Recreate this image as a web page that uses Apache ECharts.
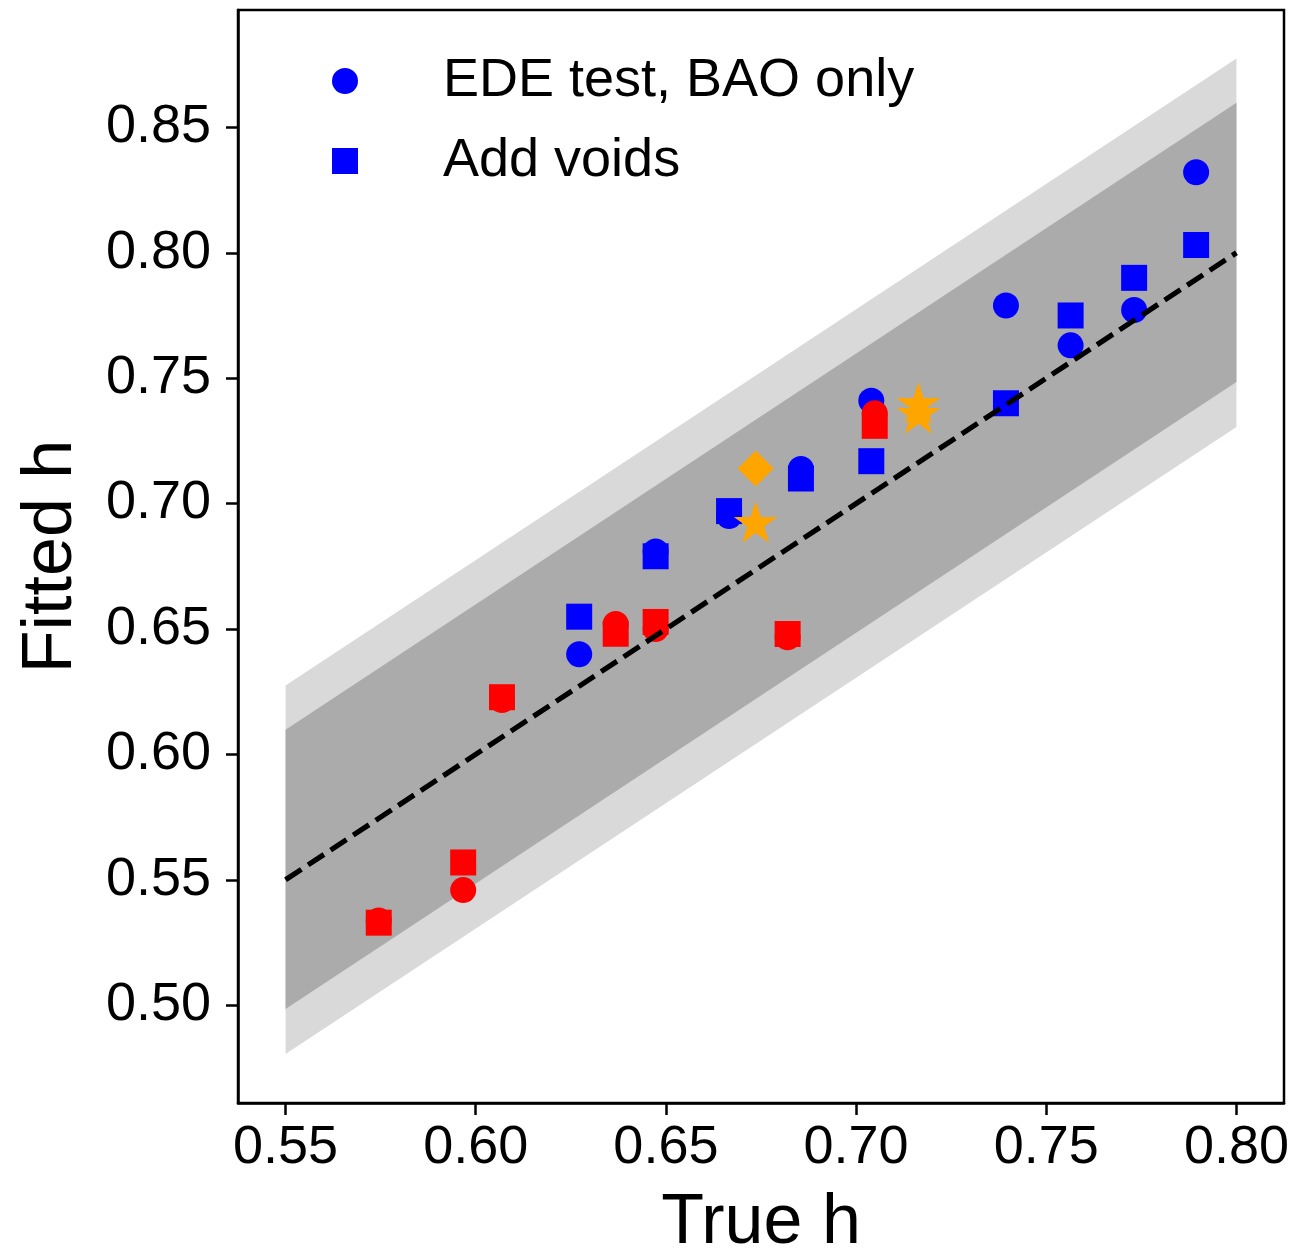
<!DOCTYPE html>
<html>
<head>
<meta charset="utf-8">
<script src="https://cdn.jsdelivr.net/npm/echarts@6/dist/echarts.min.js"></script>
<style>
  html, body { margin: 0; padding: 0; background: #fff; }
  #chart { width: 1294px; height: 1252px; }
</style>
</head>
<body>
<div id="chart"></div>
<script>
// Axis ranges and tick positions
const xRange = [0.5375, 0.8125];
const yRange = [0.4610, 0.8968];
const xTicks = [0.55, 0.60, 0.65, 0.70, 0.75, 0.80];
const yTicks = [0.50, 0.55, 0.60, 0.65, 0.70, 0.75, 0.80, 0.85];

// Scatter bands around the one-to-one relation
const bandX = [0.55, 0.80];
const outerLow = [0.4805, 0.7305];
const outerHigh = [0.6275, 0.8775];
const innerLow = [0.4985, 0.7485];
const innerHigh = [0.6098, 0.8598];

// One-to-one reference line
const diagX = [0.55, 0.80];

// Blue runs
const blueTrue = [0.6272, 0.6473, 0.6666, 0.6855, 0.7040, 0.7394, 0.7564, 0.7731, 0.7894];
const blueBaoOnly = [0.6399, 0.6809, 0.6950, 0.7138, 0.7410, 0.7790, 0.7631, 0.7772, 0.8321];
const blueVoids = [0.6549, 0.6790, 0.6970, 0.7100, 0.7169, 0.7400, 0.7750, 0.7900, 0.8031];

// Red runs
const redTrue = [0.5745, 0.5967, 0.6069, 0.6368, 0.6473, 0.6820, 0.7049];
const redBaoOnly = [0.5338, 0.5459, 0.6217, 0.6520, 0.6500, 0.6467, 0.7360];
const redVoids = [0.5329, 0.5569, 0.6228, 0.6481, 0.6528, 0.6480, 0.7310];

// Orange runs
const diamondTrue = [0.6736];
const diamondFit = [0.7140];
const starTrue = [0.6736, 0.7164, 0.7164];
const starFit = [0.6918, 0.7393, 0.7353];

const FONT = "'Liberation Sans', Arial, Helvetica, sans-serif";
const STAR = 'path://M100,0 L122.45,69.10 L195.11,69.10 L136.33,111.80 L158.78,180.90 L100,138.2 L41.22,180.90 L63.67,111.80 L4.89,69.10 L77.55,69.10 Z';

function pairs(xs, ys) { return xs.map((x, i) => [x, ys[i]]); }

function bandSeries(low, high, color, z) {
  return {
    type: 'custom',
    z: z,
    silent: true,
    data: bandX.map((x, i) => [x, low[i], high[i]]),
    encode: { x: 0, y: [1, 2] },
    renderItem: function (params, api) {
      if (params.dataIndex !== 0) return;
      const pts = [];
      for (let i = 0; i < bandX.length; i++) pts.push(api.coord([bandX[i], high[i]]));
      for (let i = bandX.length - 1; i >= 0; i--) pts.push(api.coord([bandX[i], low[i]]));
      return { type: 'polygon', shape: { points: pts }, style: { fill: color } };
    }
  };
}

function scatter(name, xs, ys, symbol, size, color, z, extra) {
  return Object.assign({
    name: name,
    type: 'scatter',
    z: z,
    symbol: symbol,
    symbolSize: size,
    itemStyle: { color: color, opacity: 1 },
    emphasis: { disabled: true },
    data: pairs(xs, ys)
  }, extra || {});
}

const chart = echarts.init(document.getElementById('chart'), null, { renderer: 'canvas' });

chart.setOption({
  animation: false,
  backgroundColor: '#ffffff',
  grid: {
    left: 238, right: 10, top: 10, bottom: 149,
    outerBoundsMode: 'none',
    containLabel: false,
    show: true, borderColor: '#000', borderWidth: 2.5, backgroundColor: 'transparent'
  },
  legend: {
    orient: 'vertical',
    left: 327, top: 49,
    itemWidth: 26, itemHeight: 26, itemGap: 26,
    selectedMode: false,
    textStyle: { fontSize: 54, lineHeight: 54, color: '#000', fontFamily: FONT, padding: [0, 0, 0, 80] },
    data: [
      { name: 'EDE test, BAO only', icon: 'circle' },
      { name: 'Add voids', icon: 'rect' }
    ]
  },
  xAxis: {
    type: 'value',
    min: xRange[0], max: xRange[1],
    splitLine: { show: false },
    axisLine: { show: true, onZero: false, lineStyle: { color: '#000', width: 2.5 } },
    axisTick: { show: true, length: 12, customValues: xTicks, lineStyle: { color: '#000', width: 2.5 } },
    axisLabel: {
      customValues: xTicks, formatter: v => v.toFixed(2),
      fontSize: 54, color: '#000', fontFamily: FONT, margin: 18
    },
    name: 'True h', nameLocation: 'middle', nameGap: 86,
    nameTextStyle: { fontSize: 70, color: '#000', fontFamily: FONT }
  },
  yAxis: {
    type: 'value',
    min: yRange[0], max: yRange[1],
    splitLine: { show: false },
    axisLine: { show: true, onZero: false, lineStyle: { color: '#000', width: 2.5 } },
    axisTick: { show: true, length: 12, customValues: yTicks, lineStyle: { color: '#000', width: 2.5 } },
    axisLabel: {
      customValues: yTicks, formatter: v => v.toFixed(2),
      fontSize: 54, color: '#000', fontFamily: FONT, margin: 27
    },
    name: 'Fitted h', nameLocation: 'middle', nameGap: 151,
    nameTextStyle: { fontSize: 70, color: '#000', fontFamily: FONT }
  },
  series: [
    bandSeries(outerLow, outerHigh, '#d9d9d9', 1),
    bandSeries(innerLow, innerHigh, '#ababab', 2),
    scatter('EDE test, BAO only', blueTrue, blueBaoOnly, 'circle', 26, '#0000ff', 3),
    scatter('Add voids', blueTrue, blueVoids, 'rect', 26, '#0000ff', 4),
    scatter('red BAO only', redTrue, redBaoOnly, 'circle', 26, '#ff0000', 5),
    scatter('red voids', redTrue, redVoids, 'rect', 26, '#ff0000', 6),
    scatter('orange diamond', diamondTrue, diamondFit, 'diamond', 36, '#ffa500', 7),
    scatter('orange star', starTrue, starFit, STAR, [43.7, 41.6], '#ffa500', 8, { symbolOffset: [0, '-5.3%'] }),
    {
      type: 'line',
      z: 10,
      silent: true,
      symbol: 'none',
      data: pairs(diagX, diagX),
      lineStyle: { color: '#000', width: 5.2, type: [19, 8], cap: 'butt' }
    }
  ]
});
</script>
</body>
</html>
